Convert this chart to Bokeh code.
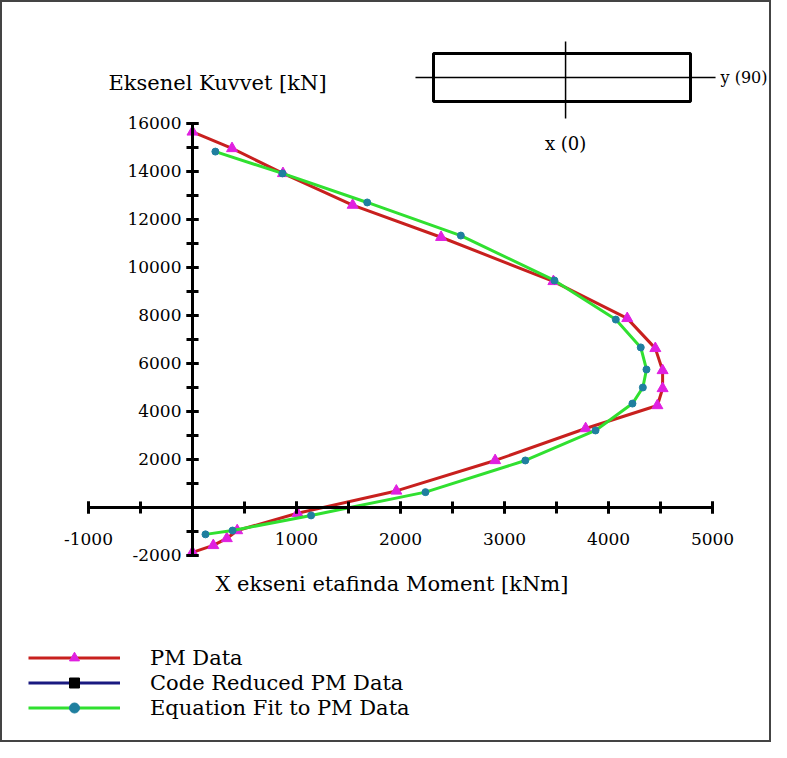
from bokeh.plotting import figure
from bokeh.models import (Range1d, FixedTicker, Legend, LegendItem, Label,
                          BoxAnnotation, ColumnDataSource)
from bokeh.embed import file_html
from bokeh.resources import INLINE

# ---- data ----
pm_moment = [0, 380, 870, 1540, 2390, 3470, 4180, 4450, 4520, 4520, 4470,
             3780, 2910, 1960, 1010, 430, 330, 200, 0]
pm_axial = [15650, 14960, 13920, 12600, 11260, 9420, 7880, 6630, 5710, 4960,
            4250, 3290, 1960, 690, -240, -960, -1290, -1580, -1870]

# the code-reduced series is not visible in the plot area (only in the legend)
code_moment = [float("nan")]
code_axial = [float("nan")]

fit_moment = [220, 865, 1680, 2580, 3480, 4070, 4310, 4365, 4330, 4230, 3875,
              3200, 2240, 1140, 385, 125]
fit_axial = [14830, 13920, 12710, 11330, 9460, 7830, 6670, 5750, 5000, 4330,
             3210, 1960, 640, -330, -960, -1120]

x_tick_labels = [-1000, 1000, 2000, 3000, 4000, 5000]
x_minor = [-1000, -500, 0, 500, 1000, 1500, 2000, 2500, 3000, 3500, 4000, 4500, 5000]
y_tick_labels = [-2000, 2000, 4000, 6000, 8000, 10000, 12000, 14000, 16000]
y_minor = list(range(-2000, 16001, 1000))

series_names = ["PM Data", "Code Reduced PM Data", "Equation Fit to PM Data"]

FONT = "DejaVu Serif"
FS = "21px"
TICK_FS = "17px"

W, H = 771, 742
p = figure(width=W, height=H, output_backend="svg", toolbar_location=None,
           x_range=Range1d(-1846, 5567), y_range=Range1d(-9792, 21125),
           min_border=0, background_fill_color="white", border_fill_color="white")
p.grid.visible = False
p.outline_line_color = "#444444"
p.outline_line_width = 3

# axes crossing at origin
xa = p.xaxis[0]
xa.fixed_location = 0
xa.bounds = (-1000, 5000)
xa.ticker = FixedTicker(ticks=x_tick_labels, minor_ticks=x_minor)
xa.major_label_overrides = {v: str(v) for v in x_tick_labels}
ya = p.yaxis[0]
ya.fixed_location = 0
ya.bounds = (-2000, 16000)
ya.ticker = FixedTicker(ticks=y_tick_labels, minor_ticks=y_minor)
ya.major_label_overrides = {v: str(v) for v in y_tick_labels}
for ax in (xa, ya):
    ax.axis_line_width = 3
    ax.axis_line_color = "black"
    ax.major_tick_line_width = 3
    ax.minor_tick_line_width = 3
    ax.major_tick_line_color = "black"
    ax.minor_tick_line_color = "black"
    ax.major_tick_in = 6
    ax.major_tick_out = 6
    ax.minor_tick_in = 6
    ax.minor_tick_out = 6
    ax.major_label_text_font = FONT
    ax.major_label_text_font_size = TICK_FS
    ax.major_label_text_color = "black"
xa.major_label_standoff = 20
ya.major_label_standoff = 5

pm_src = ColumnDataSource(dict(m=pm_moment, p=pm_axial))
code_src = ColumnDataSource(dict(m=code_moment, p=code_axial))
fit_src = ColumnDataSource(dict(m=fit_moment, p=fit_axial))

r_pm_l = p.line("m", "p", source=pm_src, line_color="#c8201e", line_width=3)
r_pm_m = p.scatter("m", "p", source=pm_src, marker="triangle", size=11,
                   fill_color="#e020e0", line_color="#e020e0")
r_code_l = p.line("m", "p", source=code_src, line_color="#1a1a80", line_width=3)
r_code_m = p.scatter("m", "p", source=code_src, marker="square", size=8,
                     fill_color="black", line_color="black")
r_fit_l = p.line("m", "p", source=fit_src, line_color="#30e030", line_width=3)
r_fit_m = p.scatter("m", "p", source=fit_src, marker="circle", size=7,
                    fill_color="#1f7f9f", line_color="#1f7f9f")

legend = Legend(items=[
    LegendItem(label=series_names[0], renderers=[r_pm_l, r_pm_m]),
    LegendItem(label=series_names[1], renderers=[r_code_l, r_code_m]),
    LegendItem(label=series_names[2], renderers=[r_fit_l, r_fit_m]),
], location=(28, 22), glyph_width=92, glyph_height=25, spacing=0,
   label_standoff=30, padding=0, margin=0, border_line_color=None,
   background_fill_alpha=0, label_text_font=FONT, label_text_font_size=FS,
   label_text_color="black", label_height=25)
p.add_layout(legend, "center")

# axis titles
p.add_layout(Label(x=-808, y=17667, text="Eksenel Kuvvet [kN]", text_font=FONT,
                   text_font_size=FS, text_baseline="middle", text_color="black"))
p.add_layout(Label(x=221, y=-3167, text="X ekseni etafinda Moment [kNm]",
                   text_font=FONT, text_font_size=FS, text_baseline="middle",
                   text_color="black"))

# section sketch
p.add_layout(BoxAnnotation(left=2317, right=4788, bottom=16917, top=18917,
                           fill_alpha=0, line_color="black", line_alpha=1,
                           line_width=3))
p.segment(x0=[2144, 3587], y0=[17917, 16208], x1=[5029, 3587], y1=[17917, 19417],
          line_color="black", line_width=1.5)
p.add_layout(Label(x=5077, y=17917, text="y (90)", text_font=FONT,
                   text_font_size="16px", text_baseline="middle", text_color="black"))
p.add_layout(Label(x=3587, y=15167, text="x (0)", text_font=FONT,
                   text_font_size="18px", text_baseline="middle", text_align="center",
                   text_color="black"))

open("out.html", "w").write(file_html(p, INLINE))
